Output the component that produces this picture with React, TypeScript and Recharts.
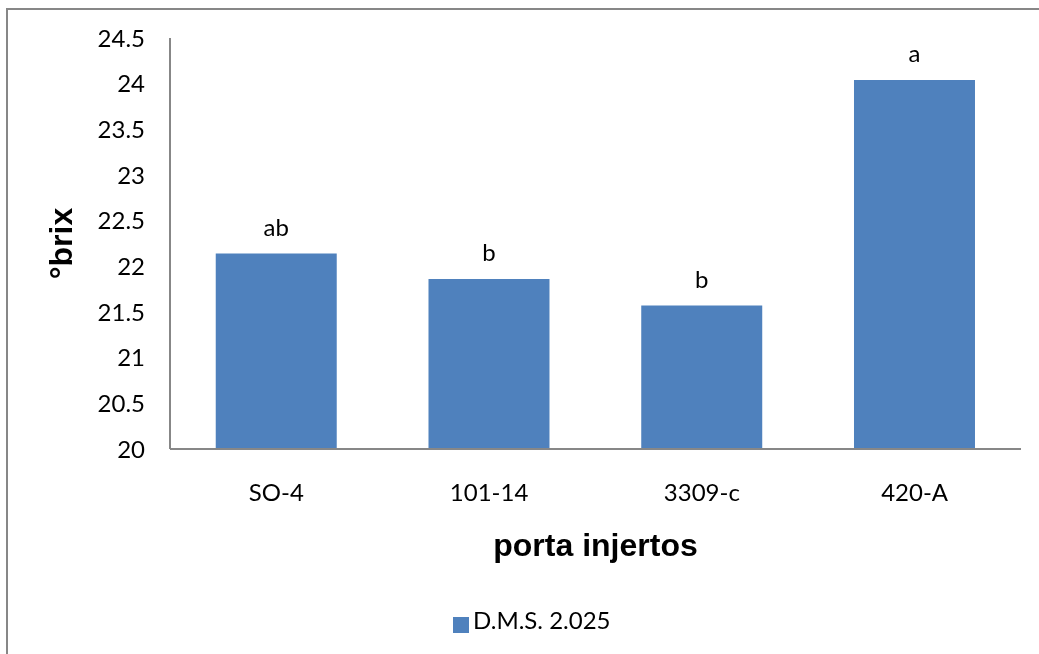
import { BarChart, Bar, XAxis, YAxis, Legend, LabelList } from 'recharts'

const portaInjertos = ['SO-4', '101-14', '3309-c', '420-A']
const brix = [22.14, 21.86, 21.57, 24.04]
const letras = ['ab', 'b', 'b', 'a']
const yTicks = [20, 20.5, 21, 21.5, 22, 22.5, 23, 23.5, 24, 24.5]

const data = portaInjertos.map((name, i) => ({ name, brix: brix[i], letra: letras[i] }))

const tickFont = { fontFamily: 'Lato', fontSize: 24, fill: '#000' }
const axisLine = { stroke: '#878787', strokeWidth: 2 }

export default function App() {
  return (
    <>
      <div
        style={{
          position: 'fixed',
          left: 6,
          top: 8,
          width: 1100,
          height: 700,
          borderLeft: '2px solid #878787',
          borderTop: '2px solid #878787',
        }}
      />
      <div style={{ position: 'fixed', left: 0, top: 0, width: 1039, height: 654 }}>
        <BarChart
          width={1039}
          height={654}
          data={data}
          margin={{ top: 38, right: 18, bottom: 85, left: 100 }}
          barCategoryGap="21.5%"
        >
          <XAxis
            dataKey="name"
            height={120}
            axisLine={axisLine}
            tickLine={false}
            tickSize={0}
            tickMargin={35}
            tick={tickFont}
            label={{
              value: 'porta injertos',
              position: 'insideBottom',
              offset: 13,
              style: { fontFamily: 'Liberation Sans', fontSize: 32, fontWeight: 'bold', fill: '#000' },
            }}
          />
          <YAxis
            width={70}
            domain={[20, 24.5]}
            ticks={yTicks}
            interval={0}
            axisLine={axisLine}
            tickLine={false}
            tickSize={0}
            tickMargin={25}
            tick={tickFont}
            label={{
              content: (props: any) => {
                const vb = props.viewBox
                const cy = vb.y + vb.height / 2
                return (
                  <text
                    x={72}
                    y={cy}
                    transform={`rotate(-90, 72, ${cy})`}
                    textAnchor="middle"
                    style={{ fontFamily: 'Liberation Sans', fontSize: 32, fontWeight: 'bold', fill: '#000' }}
                  >
                    °brix
                  </text>
                )
              },
            }}
          />
          <Legend
            layout="horizontal"
            verticalAlign="middle"
            align="center"
            iconType="square"
            iconSize={16}
            wrapperStyle={{ left: 453, top: 605, width: 'auto' }}
            formatter={(value) => (
              <span style={{ color: '#000', fontFamily: 'Lato', fontSize: 24 }}>{value}</span>
            )}
          />
          <Bar dataKey="brix" name="D.M.S. 2.025" fill="#4F81BD" isAnimationActive={false}>
            <LabelList dataKey="letra" position="top" offset={18} style={tickFont} />
          </Bar>
        </BarChart>
      </div>
    </>
  )
}
